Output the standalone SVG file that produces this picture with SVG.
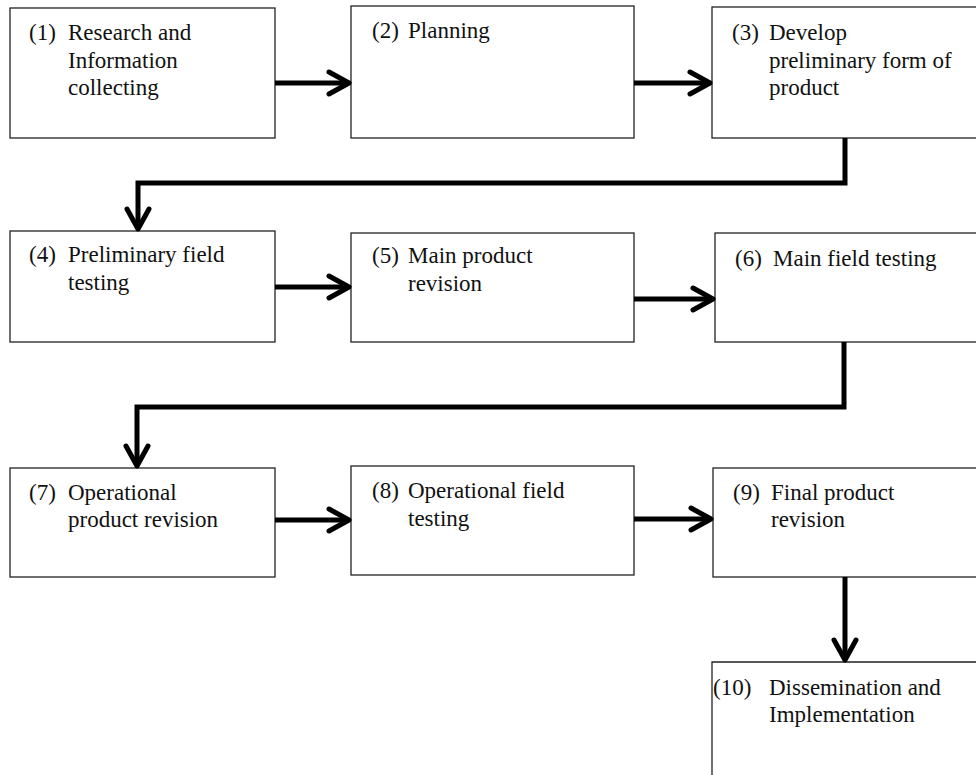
<svg xmlns="http://www.w3.org/2000/svg" width="976" height="775" viewBox="0 0 976 775">
<defs>
<style>
.box{fill:#fff;stroke:#222;stroke-width:1.3}
.t{font-family:"Liberation Serif","Times New Roman",serif;font-size:23px;fill:#111}
.c{fill:none;stroke:#000;stroke-width:5;stroke-linejoin:miter}
.h{fill:none;stroke:#000;stroke-width:5;stroke-linecap:round;stroke-linejoin:round}
</style>
</defs>
<rect width="976" height="775" fill="#fff"/>
<g id="node1"><rect class="box" x="10" y="8" width="265" height="130"/>
<text class="t" x="29" y="40">(1)</text><text class="t" x="68" y="40">Research and</text><text class="t" x="68" y="68">Information</text><text class="t" x="68" y="95">collecting</text></g>
<g id="node2"><rect class="box" x="351" y="6" width="283" height="132"/>
<text class="t" x="372" y="38">(2)</text><text class="t" x="408" y="38">Planning</text></g>
<g id="node3"><rect class="box" x="712" y="7" width="266" height="131"/>
<text class="t" x="732" y="40">(3)</text><text class="t" x="769" y="40">Develop</text><text class="t" x="769" y="68">preliminary form of</text><text class="t" x="769" y="95">product</text></g>
<g id="node4"><rect class="box" x="10" y="231" width="265" height="111"/>
<text class="t" x="29" y="262">(4)</text><text class="t" x="68" y="262">Preliminary field</text><text class="t" x="68" y="290">testing</text></g>
<g id="node5"><rect class="box" x="351" y="233" width="283" height="109"/>
<text class="t" x="372" y="263">(5)</text><text class="t" x="408" y="263">Main product</text><text class="t" x="408" y="291">revision</text></g>
<g id="node6"><rect class="box" x="715" y="233" width="263" height="109"/>
<text class="t" x="735" y="266">(6)</text><text class="t" x="773" y="266">Main field testing</text></g>
<g id="node7"><rect class="box" x="10" y="468" width="265" height="109"/>
<text class="t" x="29" y="500">(7)</text><text class="t" x="68" y="500">Operational</text><text class="t" x="68" y="527">product revision</text></g>
<g id="node8"><rect class="box" x="351" y="466" width="283" height="109"/>
<text class="t" x="372" y="498">(8)</text><text class="t" x="408" y="498">Operational field</text><text class="t" x="408" y="526">testing</text></g>
<g id="node9"><rect class="box" x="713" y="468" width="265" height="109"/>
<text class="t" x="733" y="500">(9)</text><text class="t" x="771" y="500">Final product</text><text class="t" x="771" y="527">revision</text></g>
<g id="node10"><path class="box" d="M712,775 V662 H978 V775"/>
<text class="t" x="713" y="695">(10)</text><text class="t" x="769" y="695">Dissemination and</text><text class="t" x="769" y="722">Implementation</text></g>
<g id="connectors">
<path class="c" d="M275,83 H348"/><path class="h" d="M329,72 L349,83 L329,94"/>
<path class="c" d="M634,83 H709"/><path class="h" d="M690,72 L710,83 L690,94"/>
<path class="c" d="M845,138 V183 H138 V228"/><path class="h" d="M127,209 L138,229 L149,209"/>
<path class="c" d="M275,287 H348"/><path class="h" d="M329,276 L349,287 L329,298"/>
<path class="c" d="M634,299 H712"/><path class="h" d="M693,288 L713,299 L693,310"/>
<path class="c" d="M844,342 V407 H137 V465"/><path class="h" d="M126,446 L137,466 L148,446"/>
<path class="c" d="M275,520 H348"/><path class="h" d="M329,509 L349,520 L329,531"/>
<path class="c" d="M634,519 H710"/><path class="h" d="M691,508 L711,519 L691,530"/>
<path class="c" d="M845,577 V659"/><path class="h" d="M834,640 L845,660 L856,640"/>
</g>
</svg>
